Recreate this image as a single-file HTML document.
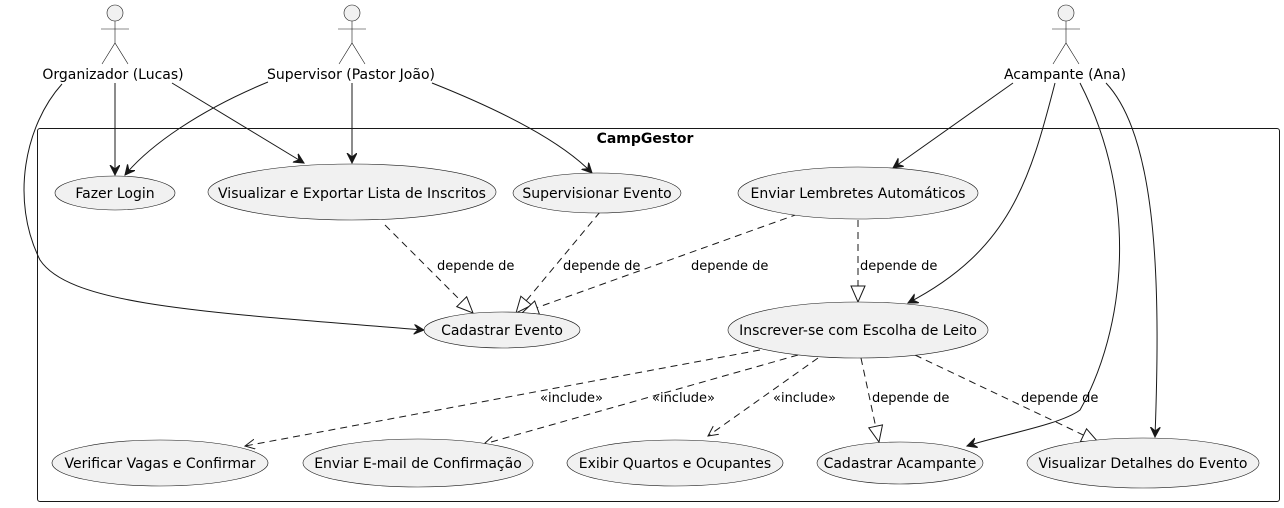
<!DOCTYPE html>
<html><head><meta charset="utf-8"><style>
html,body{margin:0;padding:0;background:#fff;}
svg{display:block;font-family:"DejaVu Sans","Liberation Sans",sans-serif;}
</style></head><body>
<svg width="1284" height="508" viewBox="0 0 1284 508" xmlns="http://www.w3.org/2000/svg">
<defs>
<marker id="a" markerWidth="12" markerHeight="12" refX="10" refY="5" orient="auto" markerUnits="userSpaceOnUse">
<path d="M0,0 L10,5 L0,10 L4,5 Z" fill="#181818" stroke="#181818" stroke-width="1"/>
</marker>
<marker id="o" markerWidth="12" markerHeight="12" refX="10" refY="5" orient="auto" markerUnits="userSpaceOnUse">
<path d="M0,0 L10,5 L0,10" fill="none" stroke="#181818" stroke-width="1"/>
</marker>
<marker id="t" markerWidth="20" markerHeight="20" refX="17" refY="8" orient="auto" markerUnits="userSpaceOnUse">
<path d="M1,1 L17,8 L1,15 Z" fill="#fff" stroke="#181818" stroke-width="1"/>
</marker>
</defs>

<!-- boundary -->
<rect x="37.5" y="128.5" width="1242" height="373" rx="2.5" fill="none" stroke="#181818" stroke-width="1"/>
<text x="645" y="143" text-anchor="middle" font-size="14" font-weight="bold" fill="#000">CampGestor</text>

<!-- actors -->
<g fill="#f1f1f1" stroke="#181818" stroke-width="0.6">
<circle cx="115" cy="13" r="8"/>
<path d="M115,21 V43 M101,29 H129 M102,64 L115,43 L128,64" fill="none"/>
<circle cx="352" cy="13" r="8"/>
<path d="M352,21 V43 M338,29 H366 M339,64 L352,43 L365,64" fill="none"/>
<circle cx="1066" cy="13" r="8"/>
<path d="M1066,21 V43 M1052,29 H1080 M1053,64 L1066,43 L1079,64" fill="none"/>
</g>
<g font-size="14" fill="#000" text-anchor="middle">
<text x="113" y="79">Organizador (Lucas)</text>
<text x="351" y="79">Supervisor (Pastor João)</text>
<text x="1065" y="79">Acampante (Ana)</text>
</g>

<!-- solid associations -->
<g fill="none" stroke="#181818" stroke-width="1" marker-end="url(#a)">
<path d="M115,83 L115,175"/>
<path d="M172,83 L304,163"/>
<path d="M62,84 C25,125 10,200 40,260 C70,305 200,312 424,330"/>
<path d="M268,82 C200,110 150,145 125,175"/>
<path d="M352,83 L352,163"/>
<path d="M432,83 C500,110 560,140 592,173"/>
<path d="M1013,83 L893,168"/>
<path d="M1055,83 C1030,180 1010,250 908,303"/>
<path d="M1080,83 C1140,200 1125,330 1080,410 C1060,425 1000,435 967,446"/>
<path d="M1106,83 C1160,140 1160,300 1155,437"/>
</g>

<!-- dashed dependencies -->
<g fill="none" stroke="#181818" stroke-width="1" stroke-dasharray="7,5">
<path d="M385,225 L473,313" marker-end="url(#t)"/>
<path d="M600,212 L516,313" marker-end="url(#t)"/>
<path d="M798,214 L522,313" marker-end="url(#t)"/>
<path d="M858,220 L858,302" marker-end="url(#t)"/>
<path d="M861,358 L879,442" marker-end="url(#t)"/>
<path d="M915,355 L1098,442" marker-end="url(#t)"/>
<path d="M760,350 L245,446" marker-end="url(#o)"/>
<path d="M798,355 L484,444" marker-end="url(#o)"/>
<path d="M818,358 L708,436" marker-end="url(#o)"/>
</g>

<!-- edge labels -->
<g font-size="13" fill="#000">
<text x="437" y="270">depende de</text>
<text x="563" y="270">depende de</text>
<text x="691" y="270">depende de</text>
<text x="860" y="270">depende de</text>
<text x="540" y="402">«include»</text>
<text x="652" y="402">«include»</text>
<text x="773" y="402">«include»</text>
<text x="872" y="402">depende de</text>
<text x="1021" y="402">depende de</text>
</g>

<!-- use cases -->
<g fill="#f1f1f1" stroke="#181818" stroke-width="0.6">
<ellipse cx="115" cy="193" rx="60" ry="17"/>
<ellipse cx="352" cy="192" rx="144" ry="28"/>
<ellipse cx="597" cy="193" rx="84" ry="20"/>
<ellipse cx="858" cy="193" rx="120" ry="26"/>
<ellipse cx="502" cy="330" rx="78" ry="18"/>
<ellipse cx="858" cy="330" rx="130" ry="28"/>
<ellipse cx="160" cy="463" rx="108" ry="23"/>
<ellipse cx="418" cy="463" rx="115" ry="24"/>
<ellipse cx="675" cy="463" rx="108" ry="23"/>
<ellipse cx="900" cy="463" rx="83" ry="21"/>
<ellipse cx="1143" cy="463" rx="116" ry="25"/>
</g>
<g font-size="14" fill="#000" text-anchor="middle">
<text x="115" y="198">Fazer Login</text>
<text x="352" y="198">Visualizar e Exportar Lista de Inscritos</text>
<text x="597" y="198">Supervisionar Evento</text>
<text x="858" y="198">Enviar Lembretes Automáticos</text>
<text x="502" y="335">Cadastrar Evento</text>
<text x="858" y="335">Inscrever-se com Escolha de Leito</text>
<text x="160" y="468">Verificar Vagas e Confirmar</text>
<text x="418" y="468">Enviar E-mail de Confirmação</text>
<text x="675" y="468">Exibir Quartos e Ocupantes</text>
<text x="900" y="468">Cadastrar Acampante</text>
<text x="1143" y="468">Visualizar Detalhes do Evento</text>
</g>
</svg>
</body></html>
